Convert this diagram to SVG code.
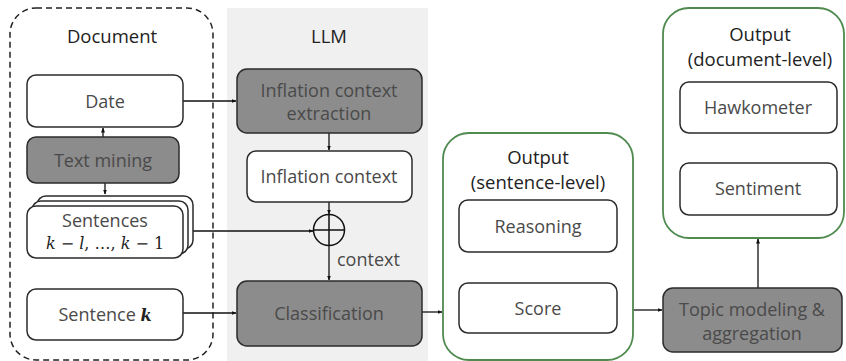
<svg xmlns="http://www.w3.org/2000/svg" width="846" height="361" viewBox="0 0 846 361">
<style>
.box{fill:#fff;stroke:#2b2b2b;stroke-width:1.5}
.dark{fill:#8c8c8c;stroke:#2b2b2b;stroke-width:1.5}
.grp{fill:#fff;stroke:#4f8a4f;stroke-width:1.8}
.t{font-family:"Open Sans","Noto Sans",sans-serif;font-size:18px;fill:#4a4a4a;text-anchor:middle}
.h{font-family:"Open Sans","Noto Sans",sans-serif;font-size:18.5px;fill:#222;text-anchor:middle}
.m{font-family:"DejaVu Serif","Liberation Serif",serif;font-size:16px;fill:#222;text-anchor:middle}
.c{fill:none;stroke:#111;stroke-width:1.3}
</style>
<defs>
<marker id="ah" viewBox="0 0 10 10" refX="9" refY="5" markerWidth="5" markerHeight="5" orient="auto" markerUnits="userSpaceOnUse">
<path d="M0,1 L10,5 L0,9 z" fill="#111"/>
</marker>
</defs>
<rect x="227" y="8" width="201" height="353" fill="#f0f0f0"/>
<rect x="10" y="8" width="203" height="352" rx="26" fill="none" stroke="#222" stroke-width="1.5" stroke-dasharray="6,4"/>
<text class="h" x="112" y="43">Document</text>
<text class="h" x="329" y="43">LLM</text>
<g id="connectors">
<path class="c" d="M183,101 H236" marker-end="url(#ah)"/>
<path class="c" d="M103,137 V128" marker-end="url(#ah)"/>
<path class="c" d="M105,183 V194" marker-end="url(#ah)"/>
<path class="c" d="M329,133 V150" marker-end="url(#ah)"/>
<path class="c" d="M329,202 V214" marker-end="url(#ah)"/>
<path class="c" d="M193,231 H313" marker-end="url(#ah)"/>
<path class="c" d="M329,246 V280" marker-end="url(#ah)"/>
<path class="c" d="M183,313 H236" marker-end="url(#ah)"/>
<path class="c" d="M422,312 H442" marker-end="url(#ah)"/>
<path class="c" d="M633,310 H662" marker-end="url(#ah)"/>
<path class="c" d="M758,288 V239" marker-end="url(#ah)"/>
</g>
<g id="date"><rect class="box" x="27" y="75" width="156" height="52" rx="9"/><text class="t" x="105" y="108">Date</text></g>
<g id="text-mining"><rect class="dark" x="27" y="137" width="152" height="46" rx="9"/><text class="t" x="103" y="167">Text mining</text></g>
<g id="sentences">
<rect class="box" x="37" y="196" width="156" height="53" rx="9"/>
<rect class="box" x="32" y="201" width="156" height="53" rx="9"/>
<rect class="box" x="27" y="206" width="156" height="52" rx="9"/>
<text class="t" x="105" y="227">Sentences</text>
<text class="m" x="105" y="249"><tspan font-style="italic">k</tspan> − <tspan font-style="italic">l</tspan>, …, <tspan font-style="italic">k</tspan> − 1</text>
</g>
<g id="sentence-k"><rect class="box" x="27" y="289" width="156" height="51" rx="9"/><text class="t" x="105" y="321">Sentence <tspan class="m" font-size="17px" font-style="italic" font-weight="bold">k</tspan></text></g>
<g id="extraction"><rect class="dark" x="237" y="69" width="185" height="64" rx="10"/><text class="t" x="329" y="97">Inflation context</text><text class="t" x="329" y="120">extraction</text></g>
<g id="inflation-context"><rect class="box" x="247" y="151" width="165" height="51" rx="9"/><text class="t" x="329" y="183">Inflation context</text></g>
<g id="concat"><circle cx="329" cy="230" r="15.5" fill="none" stroke="#111" stroke-width="1.5"/><path d="M313.5,230 H344.5 M329,214.5 V245.5" stroke="#111" stroke-width="1.5"/></g>
<text class="t" x="337" y="266" style="text-anchor:start">context</text>
<g id="classification"><rect class="dark" x="237" y="281" width="185" height="65" rx="10"/><text class="t" x="329" y="320">Classification</text></g>
<g id="output-sentence">
<rect class="grp" x="443" y="133" width="190" height="227" rx="26"/>
<text class="h" x="538" y="164">Output</text>
<text class="h" x="538" y="189">(sentence-level)</text>
</g>
<g id="reasoning"><rect class="box" x="459" y="200" width="158" height="52" rx="9"/><text class="t" x="538" y="233">Reasoning</text></g>
<g id="score"><rect class="box" x="459" y="283" width="158" height="50" rx="9"/><text class="t" x="538" y="315">Score</text></g>
<g id="output-document">
<rect class="grp" x="663" y="8" width="181" height="230" rx="26"/>
<text class="h" x="760" y="41">Output</text>
<text class="h" x="760" y="66">(document-level)</text>
</g>
<g id="hawkometer"><rect class="box" x="680" y="82" width="157" height="51" rx="9"/><text class="t" x="758" y="114">Hawkometer</text></g>
<g id="sentiment"><rect class="box" x="680" y="163" width="157" height="52" rx="9"/><text class="t" x="758" y="195">Sentiment</text></g>
<g id="topic"><rect class="dark" x="663" y="288" width="179" height="64" rx="10"/><text class="t" x="752" y="316">Topic modeling &amp;</text><text class="t" x="752" y="340">aggregation</text></g>
</svg>
